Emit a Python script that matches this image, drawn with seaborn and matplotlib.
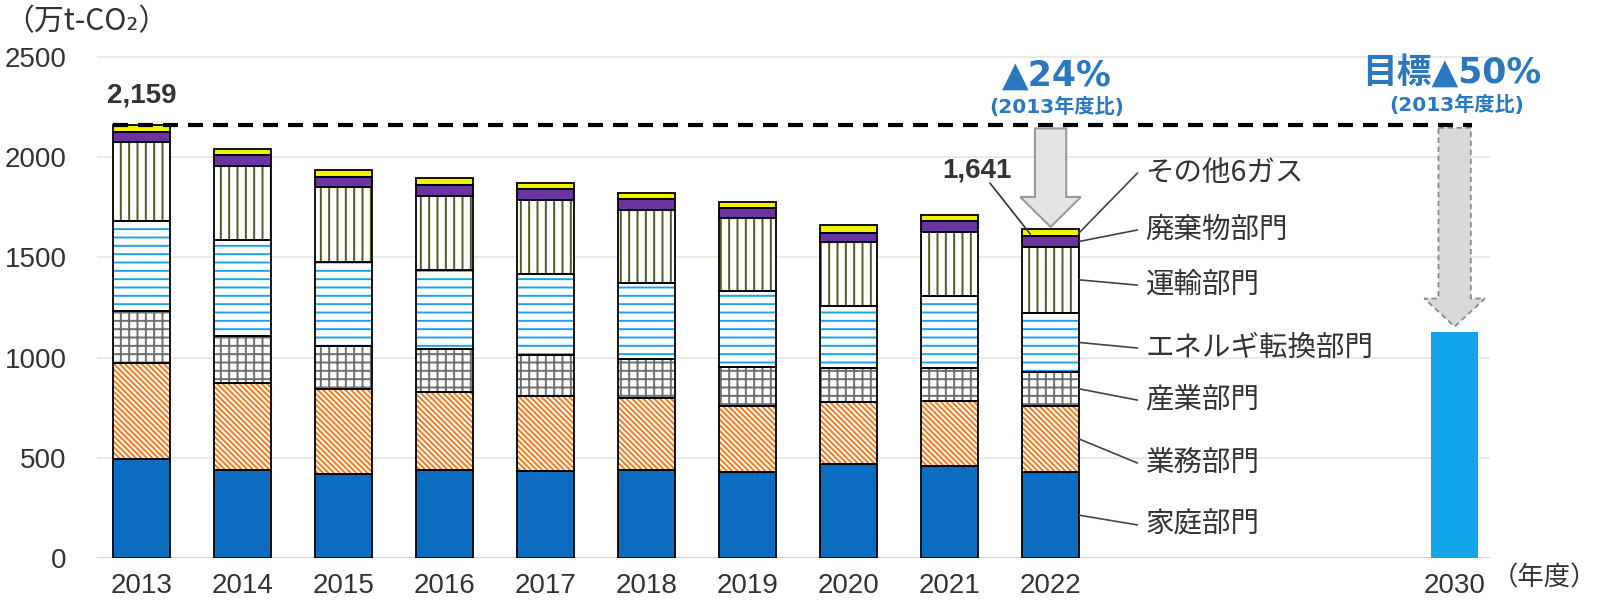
import numpy as np
import pandas as pd
import matplotlib
matplotlib.use("Agg")
import matplotlib.pyplot as plt
import seaborn as sns
from matplotlib.patches import Polygon

# ---------------- data ----------------
years = ["2013", "2014", "2015", "2016", "2017", "2018", "2019", "2020", "2021", "2022"]
target_year = "2030"
sectors = ["家庭部門", "業務部門", "産業部門", "エネルギ転換部門", "運輸部門", "廃棄物部門", "その他6ガス"]
home = [492, 440, 420, 440, 432, 440, 427, 470, 460, 427]
business = [483, 433, 423, 390, 375, 358, 330, 307, 325, 333]
industry = [260, 237, 214, 213, 208, 195, 195, 171, 163, 168]
energy = [445, 477, 420, 394, 400, 377, 380, 309, 362, 295]
transport = [395, 370, 373, 370, 370, 367, 363, 320, 318, 330]
waste = [50, 53, 53, 53, 55, 53, 50, 43, 54, 54]
other = [34, 33, 34, 37, 33, 30, 33, 40, 30, 34]
target_2030 = 1130
reduction_2022 = "▲24%"
reduction_target = "目標▲50%"
base_note = "(2013年度比)"
y_ticks = [0, 500, 1000, 1500, 2000, 2500]
y_unit = "（万t-CO₂）"
x_unit = "（年度）"

# ---------------- styles ----------------
series = [home, business, industry, energy, transport, waste, other]
faces = ["#0b6cc0", "white", "white", "white", "white", "#6a33a0", "#f2f200"]
hatch_cols = ["#0b6cc0", "#f27a1c", "#6e6e6e", "#1aa3ec", "#4f5a22", "#6a33a0", "#f2f200"]
hatches = [None, "\\\\\\\\\\\\", "++", "--", "||", None, None]
label_y = [165, 474, 788, 1048, 1362, 1637, 1921]

sns.set_theme(style="white")
plt.rcParams["font.family"] = ["Noto Sans CJK JP", "DejaVu Sans"]
plt.rcParams["hatch.linewidth"] = 1.4
NUM = ["Liberation Sans", "DejaVu Sans"]
TXT = "#333333"
BLUE = "#2a78c0"

fig = plt.figure(figsize=(15.98, 6.07), dpi=100)
ax = fig.add_axes([97 / 1598, 49 / 607, 1393 / 1598, 531 / 607])

pos = np.arange(len(years))
W = 0.57
vals = np.array(series, dtype=float)
cum = np.vstack([np.zeros(len(years)), np.cumsum(vals, axis=0)])
totals = cum[-1]

# fills / hatches
for i in range(len(series)):
    sns.barplot(x=pos, y=vals[i], bottom=cum[i], native_scale=True, width=W,
                color=hatch_cols[i], facecolor=faces[i], edgecolor=hatch_cols[i],
                hatch=hatches[i], linewidth=0, errorbar=None, ax=ax, zorder=2)
# outlines
for i in range(len(series)):
    sns.barplot(x=pos, y=vals[i], bottom=cum[i], native_scale=True, width=W,
                color="black", facecolor="none", edgecolor="black", linewidth=1.3,
                errorbar=None, ax=ax, zorder=3)

# 2030 target bar
tpos = 13
sns.barplot(x=[tpos], y=[target_2030], native_scale=True, width=0.46,
            color="#13a5e9", facecolor="#13a5e9", edgecolor="#13a5e9", linewidth=0,
            errorbar=None, ax=ax, zorder=2)

# axes styling
ax.set_xlim(-0.44, 13.35)
ax.set_ylim(0, 2650)
ax.set_yticks(y_ticks)
ax.set_yticklabels([str(v) for v in y_ticks])
ax.set_xticks(list(pos) + [tpos])
ax.set_xticklabels(years + [target_year])
ax.tick_params(axis="y", length=0, pad=22, labelsize=20, labelcolor=TXT)
ax.tick_params(axis="x", length=0, pad=11, labelsize=20, labelcolor=TXT)
for lab in ax.get_xticklabels() + ax.get_yticklabels():
    lab.set_fontfamily(NUM)
for s in ax.spines.values():
    s.set_visible(False)
ax.set_xlabel("")
ax.set_ylabel("")
for v in y_ticks[1:]:
    ax.axhline(v, color="#e6e6e6", lw=1.2, zorder=0)
ax.axhline(0, color="#d4d4d4", lw=1.5, zorder=1)

# dashed base line
ax.plot([-W / 2, tpos + 0.17], [totals[0], totals[0]], color="black", lw=3,
        dashes=(3.6, 2.4), zorder=6, clip_on=False)

# total labels
ax.text(0, totals[0] + 150, f"{int(totals[0]):,}", ha="center", va="center",
        fontsize=20, fontweight="bold", color=TXT, family=NUM, zorder=7)
ax.text(8.27, totals[-1] + 295, f"{int(totals[-1]):,}", ha="center", va="center",
        fontsize=20, fontweight="bold", color=TXT, family=NUM, zorder=7)
ax.plot([8.40, 8.80], [totals[-1] + 230, totals[-1] - 25], color="#333333", lw=1.2, zorder=7)

# arrows
def down_arrow(xc, y_top, y_tip, shaft_hw, head_hw, head_len):
    yh = y_tip + head_len
    return [(xc - shaft_hw, y_top), (xc + shaft_hw, y_top), (xc + shaft_hw, yh),
            (xc + head_hw, yh), (xc, y_tip), (xc - head_hw, yh), (xc - shaft_hw, yh)]

ax.add_patch(Polygon(down_arrow(9, totals[0] - 15, totals[-1] + 11, 0.155, 0.30, 150),
                     closed=True, facecolor="#e4e4e4", edgecolor="#9a9a9a", lw=1.5, zorder=5))
ax.add_patch(Polygon(down_arrow(tpos, totals[0] - 12, target_2030 + 25, 0.16, 0.30, 140),
                     closed=True, facecolor="#d9d9d9", edgecolor="#8a8a8a", lw=1.3,
                     linestyle=(0, (3, 2)), zorder=5))

# reduction texts
ax.text(9.06, 2405, reduction_2022, ha="center", va="center", fontsize=25, fontweight="bold",
        color=BLUE, family=["DejaVu Sans", "Noto Sans CJK JP"], zorder=7)
ax.text(9.06, 2250, base_note, ha="center", va="center", fontsize=14.5, fontweight="bold",
        color=BLUE, family=["DejaVu Sans", "Noto Sans CJK JP"], zorder=7)
ax.text(12.97, 2420, reduction_target, ha="center", va="center", fontsize=25, fontweight="bold",
        color=BLUE, family=["DejaVu Sans", "Noto Sans CJK JP"], zorder=7)
ax.text(13.02, 2260, base_note, ha="center", va="center", fontsize=14.5, fontweight="bold",
        color=BLUE, family=["DejaVu Sans", "Noto Sans CJK JP"], zorder=7)

# sector labels with leader lines
x_edge = 9 + W / 2
for i, name in enumerate(sectors):
    mid = (cum[i][-1] + cum[i + 1][-1]) / 2
    ax.plot([x_edge, 9.86], [mid, label_y[i]], color="#444444", lw=1.2, zorder=6, clip_on=False)
    ax.text(9.94, label_y[i], name, ha="left", va="center", fontsize=20.5, color=TXT, zorder=7)

# unit labels
fig.text(4 / 1598, 1 - 22 / 607, y_unit, ha="left", va="center", fontsize=21.5, color=TXT,
         family=["Noto Sans CJK JP", "DejaVu Sans"])
fig.text(1597 / 1598, 1 - 578 / 607, x_unit, ha="right", va="center", fontsize=19, color=TXT)

fig.savefig("out.png", dpi=100, facecolor="white")
